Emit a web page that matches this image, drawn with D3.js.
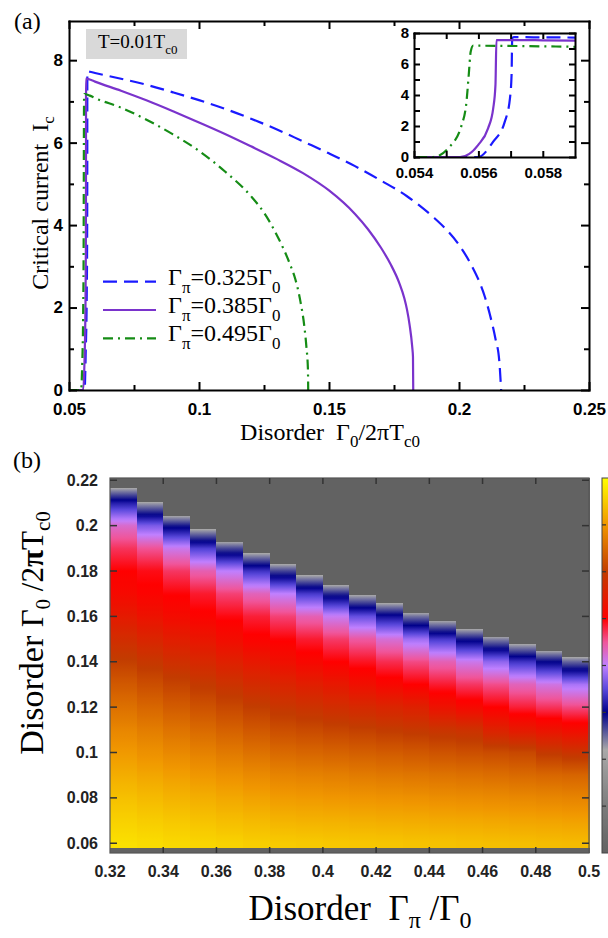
<!DOCTYPE html>
<html>
<head>
<meta charset="utf-8">
<script src="https://cdn.jsdelivr.net/npm/d3@7"></script>
<style>
  body { margin: 0; background: #fff; }
  svg { display: block; }
</style>
</head>
<body>
<svg id="fig" width="608" height="938"></svg>
<script>
// ---------- panel (a): critical current vs disorder ----------
const legendValues = ['0.325', '0.385', '0.495']

const g0Blue = [0.05, 0.05599, 0.05646, 0.05682, 0.05698, 0.05703, 0.05705, 0.0571, 0.058, 0.06, 0.07, 0.08, 0.09, 0.10, 0.11, 0.12, 0.13, 0.14, 0.15, 0.16, 0.17, 0.18, 0.19, 0.195, 0.20, 0.205, 0.208, 0.21, 0.212, 0.214, 0.2155, 0.2162]
const icBlue = [0, 0, 0.99, 2.28, 3.79, 5.29, 7.66, 7.73, 7.72, 7.69, 7.55, 7.40, 7.22, 7.03, 6.82, 6.58, 6.32, 6.03, 5.74, 5.43, 5.08, 4.70, 4.20, 3.90, 3.52, 3.00, 2.60, 2.25, 1.80, 1.25, 0.70, 0]

const g0Purple = [0.05, 0.05543, 0.05599, 0.0563, 0.05646, 0.05653, 0.05656, 0.058, 0.06, 0.07, 0.08, 0.09, 0.10, 0.11, 0.12, 0.13, 0.14, 0.15, 0.16, 0.165, 0.17, 0.1737, 0.177, 0.179, 0.18, 0.181, 0.182, 0.1823, 0.1824]
const icPurple = [0, 0, 0.77, 1.85, 3.14, 4.65, 7.55, 7.53, 7.48, 7.26, 7.02, 6.76, 6.49, 6.21, 5.91, 5.60, 5.26, 4.84, 4.27, 3.90, 3.45, 3.05, 2.60, 2.22, 1.95, 1.58, 1.05, 0.80, 0]

const g0Green = [0.05, 0.0546, 0.05506, 0.05548, 0.05563, 0.0557, 0.05576, 0.05584, 0.058, 0.06, 0.07, 0.08, 0.09, 0.10, 0.11, 0.12, 0.125, 0.13, 0.135, 0.137, 0.139, 0.1405, 0.1413, 0.1419, 0.142]
const icGreen = [0, 0, 0.56, 2.06, 3.57, 5.29, 6.79, 7.18, 7.14, 7.08, 6.85, 6.55, 6.20, 5.80, 5.30, 4.70, 4.30, 3.75, 3.05, 2.70, 2.15, 1.55, 1.05, 0.50, 0]

const xTicksA = [0.05, 0.1, 0.15, 0.2, 0.25]
const xMinorA = [0.075, 0.125, 0.175, 0.225]
const yTicksA = [0, 2, 4, 6, 8]
const yMinorA = [1, 3, 5, 7]
const xTicksIn = [0.054, 0.056, 0.058]
const xMinorIn = [0.055, 0.057]

// ---------- panel (b): Ic map over (Γπ/Γ0, Γ0/2πTc0) ----------
const gammaPi = [0.325, 0.335, 0.345, 0.355, 0.365, 0.375, 0.385, 0.395, 0.405, 0.415, 0.425, 0.435, 0.445, 0.455, 0.465, 0.475, 0.485, 0.495]
// upper disorder where Ic vanishes, per column
const gammaEdge = [0.2165, 0.2103, 0.2043, 0.1984, 0.1929, 0.1878, 0.1830, 0.1781, 0.1738, 0.1694, 0.1658, 0.1616, 0.1581, 0.1544, 0.1511, 0.1478, 0.1449, 0.1420]
const edgeIc = 2.2
const lowerEdge = 0.0578
const heatRows = [0.06, 0.07, 0.08, 0.09, 0.10, 0.11, 0.12, 0.13, 0.14, 0.15, 0.16, 0.17, 0.18, 0.19, 0.20, 0.21]
const heatIc = [
  [7.70, 7.56, 7.40, 7.22, 7.03, 6.82, 6.58, 6.32, 6.03, 5.74, 5.43, 5.15, 5.00, 4.70, 4.25, 3.19],
  [7.67, 7.51, 7.34, 7.15, 6.94, 6.72, 6.47, 6.20, 5.91, 5.61, 5.30, 5.05, 4.93, 4.51, 3.66, 2.25],
  [7.63, 7.47, 7.28, 7.08, 6.85, 6.61, 6.35, 6.08, 5.78, 5.48, 5.18, 4.98, 4.68, 4.09, 2.89],
  [7.60, 7.42, 7.23, 7.01, 6.77, 6.51, 6.24, 5.96, 5.66, 5.35, 5.05, 4.85, 4.39, 3.43],
  [7.57, 7.37, 7.17, 6.94, 6.68, 6.41, 6.13, 5.84, 5.53, 5.20, 4.95, 4.62, 3.99, 2.66],
  [7.53, 7.33, 7.11, 6.87, 6.59, 6.30, 6.01, 5.72, 5.40, 5.05, 4.82, 4.34, 3.35],
  [7.50, 7.28, 7.05, 6.80, 6.50, 6.20, 5.90, 5.60, 5.25, 4.98, 4.62, 4.00, 2.68],
  [7.49, 7.26, 7.03, 6.77, 6.46, 6.15, 5.83, 5.50, 5.12, 4.84, 4.37, 3.39],
  [7.47, 7.25, 7.00, 6.74, 6.42, 6.09, 5.75, 5.40, 5.00, 4.66, 4.06, 2.81],
  [7.46, 7.23, 6.98, 6.70, 6.38, 6.04, 5.68, 5.25, 4.89, 4.46, 3.55],
  [7.45, 7.21, 6.96, 6.67, 6.34, 5.98, 5.61, 5.12, 4.74, 4.20, 3.10],
  [7.43, 7.20, 6.94, 6.64, 6.30, 5.93, 5.54, 5.00, 4.57, 3.83, 2.46],
  [7.42, 7.18, 6.91, 6.61, 6.25, 5.87, 5.30, 4.84, 4.37, 3.39],
  [7.40, 7.17, 6.89, 6.58, 6.21, 5.82, 5.15, 4.68, 4.10, 2.90],
  [7.39, 7.15, 6.87, 6.55, 6.17, 5.55, 5.00, 4.55, 3.76, 2.38],
  [7.38, 7.13, 6.85, 6.51, 6.13, 5.40, 4.82, 4.34, 3.35],
  [7.36, 7.12, 6.82, 6.48, 5.95, 5.30, 4.70, 4.14, 2.98],
  [7.35, 7.10, 6.80, 6.45, 5.85, 5.20, 4.58, 3.88, 2.52]
]
const xTicksB = [0.32, 0.34, 0.36, 0.38, 0.4, 0.42, 0.44, 0.46, 0.48, 0.5]
const yTicksB = [0.06, 0.08, 0.1, 0.12, 0.14, 0.16, 0.18, 0.2, 0.22]
const barTicks = [1, 2, 3, 4, 5, 6, 7]

// colour map used by the map and its bar
const cmapStops = [0, 1, 2.2, 3, 3.5, 4, 4.5, 5, 6, 7, 8]
const cmapColors = ['#626262', '#7c7c7c', '#a9a9a9', '#00008a', '#5a48dc', '#c080ff', '#f0559a', '#ff0000', '#c23c00', '#f09600', '#ffff00']

const SERIF = "'Liberation Serif', 'Times New Roman', serif"
const SANS = "'Liberation Sans', Arial, sans-serif"
const SP = '\u00a0'

const svg = d3.select('#fig')
const defs = svg.append('defs')

function addParts(textSel, parts, subSize, shift) {
  let low = false
  parts.forEach(p => {
    const t = textSel.append('tspan').text(p[0])
    if (p[1]) {
      t.attr('font-size', subSize)
      if (!low) { t.attr('dy', shift); low = true }
    } else if (low) {
      t.attr('dy', -shift); low = false
    }
    if (p[2]) t.attr('font-weight', 'bold')
    if (p[3]) t.attr('font-size', p[3])
  })
}

function styleAxis(g, size, width) {
  g.select('.domain').attr('stroke', '#000').attr('stroke-width', width)
  g.selectAll('.tick line').attr('stroke', '#000').attr('stroke-width', width)
  g.selectAll('.tick text').attr('font-family', SANS).attr('font-weight', 'bold')
    .attr('font-size', size).attr('fill', '#000')
}

// ================= panel (a) =================
const xa = d3.scaleLinear().domain([0.05, 0.25]).range([69, 589])
const ya = d3.scaleLinear().domain([0, 8.95]).range([390, 21])

defs.append('clipPath').attr('id', 'clipA').append('rect')
  .attr('x', 69).attr('y', 21).attr('width', 520).attr('height', 369)

const series = [
  { x: g0Blue, y: icBlue, color: '#1a1aff', dash: '14,7' },
  { x: g0Purple, y: icPurple, color: '#7a33cc', dash: null },
  { x: g0Green, y: icGreen, color: '#158c15', dash: '10,5,2,5' }
]

const gA = svg.append('g')
const lineA = d3.line().x(d => xa(d[0])).y(d => ya(d[1])).curve(d3.curveMonotoneX)
gA.append('g').attr('clip-path', 'url(#clipA)')
  .selectAll('path').data(series).join('path')
  .attr('d', s => lineA(d3.zip(s.x, s.y)))
  .attr('fill', 'none').attr('stroke', s => s.color).attr('stroke-width', 2.2)
  .attr('stroke-dasharray', s => s.dash)

// axes with ticks inward on every side
function frameAxes(g, x, y, opt) {
  const [x0, x1] = x.range(), [y0, y1] = y.range()
  const bottom = g.append('g').attr('transform', `translate(0,${y0})`)
    .call(d3.axisBottom(x).tickValues(opt.xt).tickSize(-opt.major).tickSizeOuter(0)
      .tickPadding(opt.xpad).tickFormat(d => String(d)))
  styleAxis(bottom, opt.font, opt.lw)
  const left = g.append('g').attr('transform', `translate(${x0},0)`)
    .call(d3.axisLeft(y).tickValues(opt.yt).tickSize(-opt.major).tickSizeOuter(0)
      .tickPadding(opt.ypad).tickFormat(d => String(d)))
  styleAxis(left, opt.font, opt.lw)
  const top = g.append('g').attr('transform', `translate(0,${y1})`)
    .call(d3.axisTop(x).tickValues(opt.xt).tickSize(-opt.major).tickSizeOuter(0).tickFormat(''))
  styleAxis(top, opt.font, opt.lw)
  const right = g.append('g').attr('transform', `translate(${x1},0)`)
    .call(d3.axisRight(y).tickValues(opt.yt).tickSize(-opt.major).tickSizeOuter(0).tickFormat(''))
  styleAxis(right, opt.font, opt.lw)
  const mk = (axis, tr) => {
    const m = g.append('g').attr('transform', tr).call(axis.tickSize(-opt.minor).tickSizeOuter(0).tickFormat(''))
    styleAxis(m, opt.font, opt.lw)
    m.select('.domain').remove()
  }
  mk(d3.axisBottom(x).tickValues(opt.xm), `translate(0,${y0})`)
  mk(d3.axisTop(x).tickValues(opt.xm), `translate(0,${y1})`)
  mk(d3.axisLeft(y).tickValues(opt.ym), `translate(${x0},0)`)
  mk(d3.axisRight(y).tickValues(opt.ym), `translate(${x1},0)`)
  g.selectAll('.domain').attr('stroke-linecap', 'square')
}

frameAxes(gA, xa, ya, {
  xt: xTicksA, xm: xMinorA, yt: yTicksA, ym: yMinorA,
  major: 8, minor: 5, font: 17, lw: 2, xpad: 13, ypad: 6
})

// label box T=0.01Tc0
gA.append('rect').attr('x', 86).attr('y', 29).attr('width', 101).attr('height', 30).attr('fill', '#d9d9d9')
addParts(gA.append('text').attr('x', 98).attr('y', 48).attr('font-family', SERIF).attr('font-size', 19),
  [['T=0.01T'], ['c0', true]], 13, 6)

// legend
series.forEach((s, i) => {
  const yy = 281.7 + i * 28.3
  gA.append('line').attr('x1', 103).attr('x2', 156).attr('y1', yy).attr('y2', yy)
    .attr('stroke', s.color).attr('stroke-width', 2.2).attr('stroke-dasharray', s.dash)
  addParts(gA.append('text').attr('x', 168).attr('y', yy + 3).attr('font-family', SERIF).attr('font-size', 24),
    [['Γ'], ['π', true], ['=' + legendValues[i] + 'Γ'], ['0', true]], 17, 8)
})

// axis titles of (a)
addParts(gA.append('text').attr('x', 330).attr('y', 440).attr('text-anchor', 'middle')
  .attr('font-family', SERIF).attr('font-size', 24),
  [['Disorder' + SP + SP + 'Γ'], ['0', true], ['/2πT'], ['c0', true]], 17, 7)
addParts(gA.append('text').attr('transform', 'translate(48,203) rotate(-90)').attr('text-anchor', 'middle')
  .attr('font-family', SERIF).attr('font-size', 24),
  [['Critical current' + SP + SP + 'I'], ['c', true]], 17, 6)
gA.append('text').attr('x', 14).attr('y', 29).attr('font-family', SERIF).attr('font-size', 24).text('(a)')

// ---- inset ----
const xi = d3.scaleLinear().domain([0.054, 0.059]).range([414, 575])
const yi = d3.scaleLinear().domain([0, 8]).range([157, 33])
defs.append('clipPath').attr('id', 'clipI').append('rect')
  .attr('x', 414).attr('y', 33).attr('width', 161).attr('height', 124)
const gI = svg.append('g')
gI.append('rect').attr('x', 414).attr('y', 33).attr('width', 161).attr('height', 124).attr('fill', '#fff')
const lineI = d3.line().x(d => xi(d[0])).y(d => yi(d[1])).curve(d3.curveMonotoneX)
gI.append('g').attr('clip-path', 'url(#clipI)')
  .selectAll('path').data(series).join('path')
  .attr('d', s => lineI(d3.zip(s.x, s.y)))
  .attr('fill', 'none').attr('stroke', s => s.color).attr('stroke-width', 2.2)
  .attr('stroke-dasharray', s => s.dash)
frameAxes(gI, xi, yi, {
  xt: xTicksIn, xm: xMinorIn, yt: yTicksA, ym: yMinorA,
  major: 6, minor: 6, font: 15, lw: 2, xpad: 10, ypad: 5
})

// ================= panel (b) =================
const xb = d3.scaleLinear().domain([0.32, 0.50]).range([110, 589])
const yb = d3.scaleLinear().domain([0.0557, 0.221]).range([853, 478])
const cmap = d3.scaleLinear().domain(cmapStops).range(cmapColors)
const bTop = 478, bBot = 853
const off = g => (yb(g) - bTop) / (bBot - bTop)

const gB = svg.append('g')
gammaPi.forEach((gp, i) => {
  const vals = heatIc[i]
  const xs = heatRows.slice(0, vals.length).concat([gammaEdge[i]])
  const vs = vals.concat([edgeIc])
  const f = d3.scaleLinear().domain(xs).range(vs)
  const stops = [[0, cmap(0)], [off(gammaEdge[i]), cmap(0)]]
  for (let k = xs.length - 1; k > 0; k--) {
    for (let s = 0; s < 10; s++) {
      const g = xs[k] + (xs[k - 1] - xs[k]) * s / 10
      stops.push([off(g), cmap(f(g))])
    }
  }
  stops.push([off(xs[0]), cmap(vs[0])])
  stops.push([off(lowerEdge), cmap(vs[0])])
  stops.push([off(lowerEdge), cmap(0)])
  stops.push([1, cmap(0)])
  defs.append('linearGradient').attr('id', 'hc' + i)
    .attr('gradientUnits', 'userSpaceOnUse')
    .attr('x1', 0).attr('x2', 0).attr('y1', bTop).attr('y2', bBot)
    .selectAll('stop').data(stops).join('stop')
    .attr('offset', d => d[0]).attr('stop-color', d => d[1])
  const xl = Math.round(xb(gp - 0.005)), xr = Math.round(xb(gp + 0.005))
  gB.append('rect')
    .attr('x', xl).attr('width', xr - xl + 1)
    .attr('y', bTop).attr('height', bBot - bTop)
    .attr('shape-rendering', 'crispEdges')
    .attr('fill', `url(#hc${i})`)
})

gB.append('rect').attr('x', 110).attr('y', bTop).attr('width', 479).attr('height', bBot - bTop)
  .attr('fill', 'none').attr('stroke', '#555').attr('stroke-width', 1.2)

const tickCol = '#333'
gB.selectAll('.bx').data(xTicksB.slice(1, -1)).join('g').each(function (d) {
  const g = d3.select(this)
  g.append('line').attr('x1', xb(d)).attr('x2', xb(d)).attr('y1', bBot).attr('y2', bBot - 6).attr('stroke', tickCol).attr('stroke-width', 1.5)
  g.append('line').attr('x1', xb(d)).attr('x2', xb(d)).attr('y1', bTop).attr('y2', bTop + 6).attr('stroke', tickCol).attr('stroke-width', 1.5)
})
gB.selectAll('.by').data(yTicksB).join('g').each(function (d) {
  const g = d3.select(this)
  g.append('line').attr('x1', 110).attr('x2', 117).attr('y1', yb(d)).attr('y2', yb(d)).attr('stroke', tickCol).attr('stroke-width', 1.5)
  g.append('line').attr('x1', 589).attr('x2', 582).attr('y1', yb(d)).attr('y2', yb(d)).attr('stroke', tickCol).attr('stroke-width', 1.5)
})
gB.selectAll('.bxl').data(xTicksB).join('text')
  .attr('x', d => xb(d)).attr('y', 877).attr('text-anchor', 'middle')
  .attr('font-family', SANS).attr('font-weight', 'bold').attr('font-size', 16).attr('fill', '#222')
  .text(d => String(d))
gB.selectAll('.byl').data(yTicksB).join('text')
  .attr('x', 98).attr('y', d => yb(d) + 5.5).attr('text-anchor', 'end')
  .attr('font-family', SANS).attr('font-weight', 'bold').attr('font-size', 16).attr('fill', '#222')
  .text(d => String(d))

// colour bar (cut by the page edge)
const cb = d3.scaleLinear().domain([0, 8]).range([bBot, bTop])
const barStops = d3.range(0, 81).map(k => k / 10)
defs.append('linearGradient').attr('id', 'cbar')
  .attr('gradientUnits', 'userSpaceOnUse')
  .attr('x1', 0).attr('x2', 0).attr('y1', bBot).attr('y2', bTop)
  .selectAll('stop').data(barStops).join('stop')
  .attr('offset', v => v / 8).attr('stop-color', v => cmap(v))
gB.append('rect').attr('x', 602).attr('y', bTop).attr('width', 20).attr('height', bBot - bTop)
  .attr('fill', 'url(#cbar)').attr('stroke', '#444').attr('stroke-width', 1)
gB.selectAll('.cbt').data(barTicks).join('line')
  .attr('x1', 602).attr('x2', 606).attr('y1', v => cb(v)).attr('y2', v => cb(v))
  .attr('stroke', '#333').attr('stroke-width', 1.2)

// titles of (b)
gB.append('text').attr('x', 13).attr('y', 468).attr('font-family', SERIF).attr('font-size', 24).text('(b)')
addParts(gB.append('text').attr('x', 360).attr('y', 920).attr('text-anchor', 'middle')
  .attr('font-family', SERIF).attr('font-size', 35),
  [['Disorder' + SP + SP + 'Γ'], ['π', true], [' /Γ'], ['0', true]], 24, 8)
addParts(gB.append('text').attr('transform', 'translate(43,633) rotate(-90)').attr('text-anchor', 'middle')
  .attr('font-family', SERIF).attr('font-size', 34),
  [['Disorder' + SP], ['Γ', false, false, 31], ['0', true], [' /2', false, false, 31], ['π', false, true, 31], ['T', false, false, 31], ['c0', true]], 21, 7)
</script>
</body>
</html>
